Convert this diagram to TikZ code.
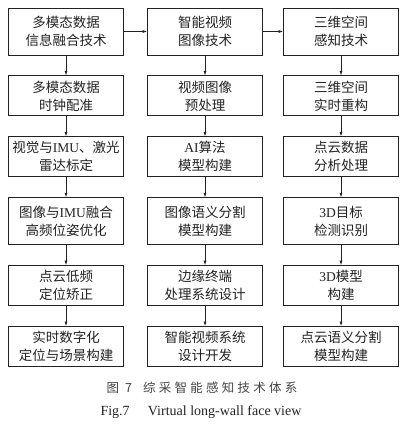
\documentclass[tikz,border=0pt]{standalone}
\usepackage{fontspec}
\setmainfont{Liberation Serif}
\newfontfamily\cjk{Noto Sans CJK SC}
\newfontfamily\cjkcap[LetterSpace=26]{Noto Sans CJK SC}
\usetikzlibrary{positioning,arrows.meta}
\definecolor{inkgray}{HTML}{222222}
\definecolor{capgray}{HTML}{444444}
\begin{document}
\begin{tikzpicture}[x=1pt, y=1pt,
                    node distance=20pt,
                    box/.style={draw=inkgray, line width=0.9pt, text=inkgray,
                                minimum width=115pt, minimum height=40pt, inner sep=1pt,
                                align=center, font=\cjk\fontsize{13.5}{18}\selectfont},
                    tall/.style={box, minimum height=47pt},
                    link/.style={draw=inkgray, line width=0.6pt, -{Latex[length=4.5pt,width=3pt]}}]
    \useasboundingbox (0,0) rectangle (400,-441);
    \node[tall] (info) at (66,-31.5) {多模态数据\\信息融合技术};
    \node[box, below=of info] (clock) {多模态数据\\时钟配准};
    \node[box, below=of clock] (calib) {视觉与\textrm{IMU}、激光\\雷达标定};
    \node[tall, below=of calib] (fuse) {图像与\textrm{IMU}融合\\高频位姿优化};
    \node[box, below=of fuse] (lowfreq) {点云低频\\定位矫正};
    \node[box, below=of lowfreq] (locate) {实时数字化\\定位与场景构建};
    \node[tall] (video) at (205,-31.5) {智能视频\\图像技术};
    \node[box, below=of video] (prep) {视频图像\\预处理};
    \node[box, below=of prep] (aimodel) {\textrm{AI}算法\\模型构建};
    \node[tall, below=of aimodel] (segment) {图像语义分割\\模型构建};
    \node[box, below=of segment] (edge) {边缘终端\\处理系统设计};
    \node[box, below=of edge] (vsys) {智能视频系统\\设计开发};
    \node[tall] (space) at (341,-31.5) {三维空间\\感知技术};
    \node[box, below=of space] (recon) {三维空间\\实时重构};
    \node[box, below=of recon] (cloud) {点云数据\\分析处理};
    \node[tall, below=of cloud] (detect) {\textrm{3D}目标\\检测识别};
    \node[box, below=of detect] (model3d) {\textrm{3D}模型\\构建};
    \node[box, below=of model3d] (ptseg) {点云语义分割\\模型构建};
    \draw[link] (info) -- (video);
    \draw[link] (video) -- (space);
    \foreach \from/\to in {info/clock, clock/calib, calib/fuse, fuse/lowfreq, lowfreq/locate,
                           video/prep, prep/aimodel, aimodel/segment, segment/edge, edge/vsys,
                           space/recon, recon/cloud, cloud/detect, detect/model3d, model3d/ptseg}
        \draw[link] (\from) -- (\to);
    \node[text=capgray, font=\cjkcap\fontsize{12.5}{14}\selectfont] (figcn) at (202,-388)
        {图 7\hspace{0.9em}综采智能感知技术体系};
    \node[text=inkgray, font=\fontsize{14}{16}\selectfont] (figen) at (201,-412)
        {Fig.7\hspace{1.3em}Virtual long-wall face view};
\end{tikzpicture}
\end{document}
